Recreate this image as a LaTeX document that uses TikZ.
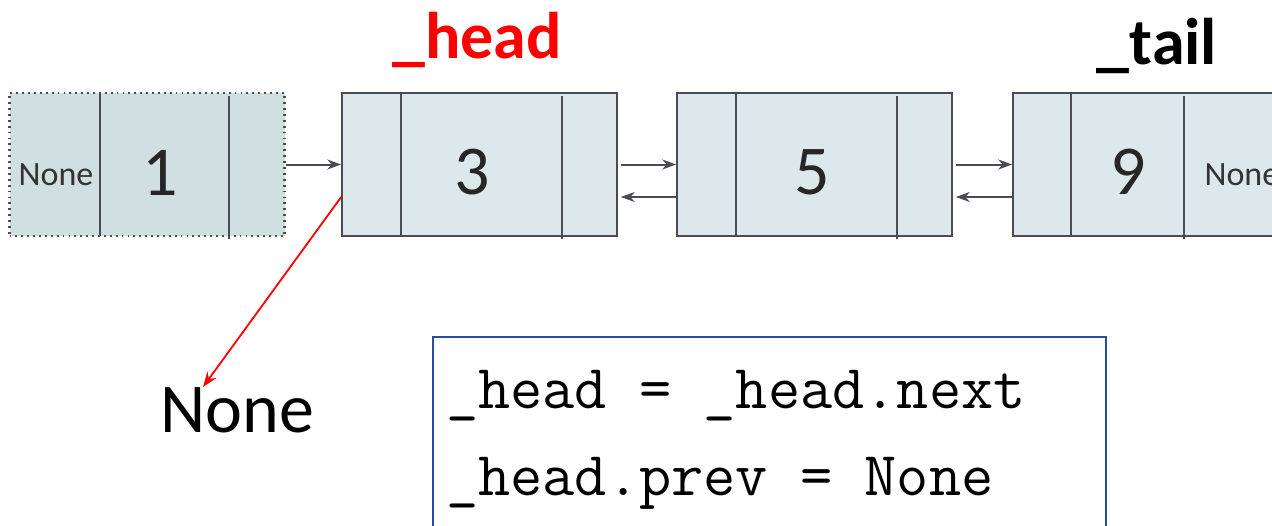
\documentclass[tikz,border=0pt]{standalone}
\usepackage{fontspec}
\setmainfont{Carlito}
\usetikzlibrary{arrows.meta}
\definecolor{nodefill}{HTML}{DDE8ED}
\definecolor{oldfill}{HTML}{D0DFE2}
\definecolor{edge}{HTML}{4B4B57}
\definecolor{codeblue}{HTML}{2350A0}
\tikzset{
  listnode/.style={rectangle, draw=edge, line width=1.6pt, fill=nodefill,
    minimum width=275pt, minimum height=143pt, inner sep=0pt},
  oldnode/.style={listnode, fill=oldfill, draw=black!70, line width=2.2pt,
    dash pattern=on 1.8pt off 4.1pt},
  divider/.style={draw=edge, line width=1.6pt},
  link/.style={draw=edge, line width=2pt, -{Stealth[length=14pt,width=10pt]}},
  redlink/.style={draw=red, line width=1.8pt, -{Stealth[length=15pt,width=11pt]}},
  valtext/.style={anchor=base, font=\fontsize{70}{80}\selectfont, text=black!85},
  smalltext/.style={anchor=base, font=\fontsize{34}{40}\selectfont, text=black!80},
  labeltext/.style={anchor=base, font=\fontsize{66}{72}\selectfont\bfseries},
  codetext/.style={anchor=base west, font=\ttfamily\fontsize{62.5}{66}\selectfont, inner sep=0pt},
}
\begin{document}
\begin{tikzpicture}[x=1pt,y=-1pt]
\useasboundingbox (0,0) rectangle (1272,525);
% list nodes
\node[oldnode] (n1) at (147,164.5) {};
\node[listnode] (n3) at (479.5,164.5) {};
\node[listnode] (n5) at (814.5,164.5) {};
\node[listnode] (n9) at (1150.5,164.5) {};
% dividers
\draw[divider] (100,93) -- (100,236);
\draw[divider] (229,96) -- (229,239);
\draw[divider] (401,93) -- (401,236);
\draw[divider] (562,96) -- (562,239);
\draw[divider] (736,93) -- (736,236);
\draw[divider] (897,96) -- (897,239);
\draw[divider] (1071,93) -- (1071,236);
\draw[divider] (1184,96) -- (1184,239);
% values
\node[smalltext] (none1) at (56,185) {None};
\node[valtext] (v1) at (160,195) {1};
\node[valtext] (v3) at (472,194) {3};
\node[valtext] (v5) at (812,194) {5};
\node[valtext] (v9) at (1128,194) {9};
\node[smalltext, anchor=base west] (none9) at (1201,185) {None};
% labels
\node[labeltext, text=red] (head) at (477,58) {\_head};
\node[labeltext, text=black] (tail) at (1157,64) {\_tail};
\node[anchor=base, font=\fontsize{70}{80}\selectfont] (none) at (237,432) {None};
\coordinate (nonetip) at (203,387);
% links
\draw[link] (n1.east) -- (n3.west);
\draw[link] ([xshift=3pt]n3.east) -- (n5.west);
\draw[link] ([yshift=-32.5pt]n5.west) -- ([xshift=3pt,yshift=-32.5pt]n3.east);
\draw[link] ([xshift=3pt]n5.east) -- (n9.west);
\draw[link] ([yshift=-32.5pt]n9.west) -- ([xshift=3pt,yshift=-32.5pt]n5.east);
\draw[redlink] ([yshift=-32.5pt]n3.west) -- (nonetip);
% code box
\node[draw=codeblue, line width=1.5pt, fill=white, minimum width=673pt, minimum height=220pt, inner sep=0pt] (code) at (769.5,447) {};
\node[codetext] (line1) at (446,408) {\_head = \_head.next};
\node[codetext] (line2) at (446,495) {\_head.prev = None};
\end{tikzpicture}
\end{document}
